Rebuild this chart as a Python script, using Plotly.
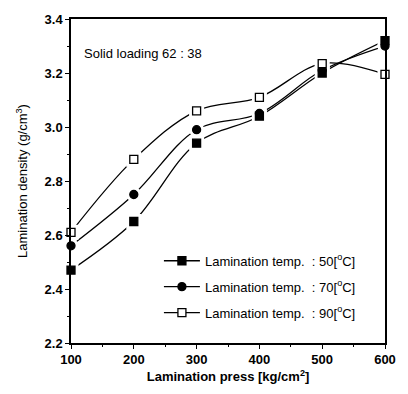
import plotly.graph_objects as go

# Lamination pressure (kg/cm^2) and resulting laminate density (g/cm^3)
press = [100, 200, 300, 400, 500, 600]
density_50 = [2.47, 2.65, 2.94, 3.04, 3.20, 3.32]
density_70 = [2.56, 2.75, 2.99, 3.05, 3.21, 3.30]
density_90 = [2.61, 2.88, 3.06, 3.11, 3.235, 3.195]

series_names = [
    "Lamination temp.  : 50[<sup>o</sup>C]",
    "Lamination temp.  : 70[<sup>o</sup>C]",
    "Lamination temp.  : 90[<sup>o</sup>C]",
]
symbols = ["square", "circle", "square"]
fills = ["black", "black", "white"]
series = [density_50, density_70, density_90]

FONT = "Liberation Sans, Arial, sans-serif"
fig = go.Figure()

# curves with markers (these also feed the legend)
for i, (name, ys, sym, fc) in enumerate(zip(series_names, series, symbols, fills)):
    fig.add_trace(go.Scatter(
        x=press, y=ys, name=name, mode="lines+markers", legendgroup=f"g{i}",
        line=dict(color="black", width=1.3, shape="spline", smoothing=1.0),
        marker=dict(symbol=sym, size=8, color=fc, line=dict(color="black", width=1.3)),
        cliponaxis=False,
    ))

# white halos open a small gap in the curves around each point
for ys, sym in zip(series, symbols):
    fig.add_trace(go.Scatter(
        x=press, y=ys, mode="markers", showlegend=False, hoverinfo="skip",
        marker=dict(symbol=sym, size=15, color="white", line=dict(width=0)),
        cliponaxis=False,
    ))

# points redrawn on top of the halos
for ys, sym, fc in zip(series, symbols, fills):
    fig.add_trace(go.Scatter(
        x=press, y=ys, mode="markers", showlegend=False,
        marker=dict(symbol=sym, size=8, color=fc, line=dict(color="black", width=1.3)),
        cliponaxis=False,
    ))

fig.add_annotation(
    x=0.035, y=0.895, xref="paper", yref="paper", xanchor="left", yanchor="middle",
    text="Solid loading 62 : 38", showarrow=False,
    font=dict(family=FONT, size=13, color="black"),
)

fig.update_layout(
    width=408, height=394,
    margin=dict(l=71, r=14, t=18, b=47),
    paper_bgcolor="white", plot_bgcolor="white",
    font=dict(family=FONT, size=13, color="black"),
    legend=dict(
        x=0.28, y=0.30, xanchor="left", yanchor="top",
        bgcolor="rgba(0,0,0,0)", itemwidth=36, tracegroupgap=6,
        traceorder="grouped",
        font=dict(family=FONT, size=13, color="black"),
    ),
    xaxis=dict(
        range=[100, 600], tickvals=press, ticktext=[str(p) for p in press],
        showline=True, linecolor="black", linewidth=1.5, mirror=True,
        ticks="outside", ticklen=4, tickwidth=1.2, tickcolor="black",
        minor=dict(dtick=50, ticks="outside", ticklen=2, tickcolor="black"),
        showgrid=False, zeroline=False,
        tickfont=dict(family=FONT, size=13, color="black", weight="bold"),
        title=dict(text="Lamination press [kg/cm<sup>2</sup>]", standoff=6,
                   font=dict(family=FONT, size=13, color="black", weight="bold")),
    ),
    yaxis=dict(
        range=[2.2, 3.4], dtick=0.2, tickformat=".1f",
        showline=True, linecolor="black", linewidth=1.5, mirror=True,
        ticks="outside", ticklen=4, tickwidth=1.2, tickcolor="black",
        minor=dict(dtick=0.1, ticks="outside", ticklen=2, tickcolor="black"),
        showgrid=False, zeroline=False,
        tickfont=dict(family=FONT, size=13, color="black", weight="bold"),
        title=dict(text="Lamination density (g/cm<sup>3</sup>)", standoff=14,
                   font=dict(family=FONT, size=13, color="black")),
    ),
)

fig.write_html("out.html")
